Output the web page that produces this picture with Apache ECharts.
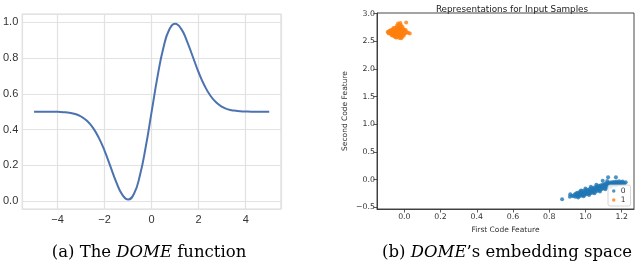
<!DOCTYPE html>
<html>
<head>
<meta charset="utf-8">
<script src="https://cdn.jsdelivr.net/npm/echarts@6/dist/echarts.min.js"></script>
<style>html,body{margin:0;padding:0;background:#fff}#c{width:640px;height:264px}</style>
</head>
<body>
<div id="c"></div>
<script>
// ---- (a) DOME function ----
const domeX = [-5,-4.75,-4.5,-4.25,-4,-3.75,-3.5,-3.25,-3,-2.75,-2.5,-2.25,-2,-1.75,-1.5,-1.25,-1,-0.75,-0.5,-0.25,0,
  0.25,0.5,0.75,1,1.25,1.5,1.75,2,2.25,2.5,2.75,3,3.25,3.5,3.75,4,4.25,4.5,4.75,5];
const domeY = [0.500,0.500,0.500,0.500,0.499,0.497,0.494,0.487,0.473,0.449,0.411,0.355,0.281,0.193,0.105,0.036,0.009,0.041,0.143,0.304,0.500,
  0.696,0.857,0.959,0.991,0.964,0.895,0.807,0.719,0.645,0.589,0.551,0.527,0.513,0.506,0.503,0.501,0.500,0.500,0.500,0.500];
const domeXTicks = [-4,-2,0,2,4];
const domeYTicks = [0,0.2,0.4,0.6,0.8,1.0];

// ---- (b) embedding space ----
const embedTitle = 'Representations for Input Samples';
const embedXName = 'First Code Feature';
const embedYName = 'Second Code Feature';
const embedXTicks = [0,0.2,0.4,0.6,0.8,1.0,1.2];
const embedYTicks = [-0.5,0,0.5,1.0,1.5,2.0,2.5,3.0];
const class0 = [
 [0.871,-0.356],[0.914,-0.307],[0.916,-0.265],[0.925,-0.29],[0.935,-0.30],[0.94,-0.27],[0.945,-0.31],[0.948,-0.25],[0.952,-0.285],[0.955,-0.235],
 [0.958,-0.30],[0.962,-0.26],[0.965,-0.28],[0.968,-0.225],[0.970,-0.295],[0.973,-0.25],[0.976,-0.27],[0.979,-0.21],[0.982,-0.285],[0.985,-0.24],
 [0.988,-0.26],[0.990,-0.20],[0.993,-0.275],[0.996,-0.23],[0.999,-0.25],[1.002,-0.19],[1.005,-0.265],[1.008,-0.22],[1.010,-0.24],[1.013,-0.18],
 [1.016,-0.255],[1.019,-0.205],[1.022,-0.23],[1.025,-0.165],[1.028,-0.245],[1.031,-0.19],[1.034,-0.215],[1.037,-0.155],[1.040,-0.235],[1.043,-0.175],
 [1.046,-0.20],[1.049,-0.14],[1.052,-0.22],[1.055,-0.16],[1.058,-0.185],[1.061,-0.125],[1.064,-0.205],[1.067,-0.145],[1.070,-0.17],[1.073,-0.11],
 [1.076,-0.19],[1.079,-0.13],[1.082,-0.155],[1.085,-0.10],[1.088,-0.175],[1.091,-0.115],[1.094,-0.14],[1.097,-0.085],[1.100,-0.16],[1.103,-0.10],
 [1.106,-0.125],[1.109,-0.07],[1.112,-0.145],[1.115,-0.09],[1.118,-0.11],[1.121,-0.06],[1.124,-0.13],[1.127,-0.08],[1.130,-0.10],[1.133,-0.05],
 [1.136,-0.115],[1.139,-0.07],[1.142,-0.09],[1.145,-0.045],[1.148,-0.10],[1.151,-0.06],[1.154,-0.08],[1.157,-0.04],[1.160,-0.09],[1.163,-0.055],
 [1.166,-0.07],[1.170,-0.035],[1.174,-0.08],[1.178,-0.05],[1.182,-0.065],[1.186,-0.03],[1.190,-0.07],[1.195,-0.045],[1.200,-0.06],[1.205,-0.035],
 [1.210,-0.055],[1.222,-0.045],[1.125,0.043],[1.168,0.043],[1.095,-0.02],[1.06,-0.09],[1.03,-0.13],[1.00,-0.16],[0.975,-0.195],[1.12,-0.025],
 [0.96,-0.32],[0.99,-0.30],[1.02,-0.275],[1.05,-0.245],[1.08,-0.215],[1.11,-0.175],[1.14,-0.13],[1.17,-0.10],[1.197,-0.085],[1.215,-0.075]
];
const class1 = [
 [-0.088,2.665],[-0.085,2.68],[-0.082,2.655],[-0.080,2.69],[-0.078,2.67],[-0.076,2.645],[-0.075,2.70],[-0.072,2.66],[-0.070,2.685],[-0.069,2.63],
 [-0.067,2.71],[-0.066,2.65],[-0.064,2.675],[-0.062,2.60],[-0.061,2.695],[-0.060,2.64],[-0.058,2.72],[-0.057,2.66],[-0.056,2.62],[-0.054,2.70],
 [-0.053,2.68],[-0.052,2.585],[-0.050,2.65],[-0.049,2.735],[-0.048,2.61],[-0.047,2.69],[-0.046,2.67],[-0.045,2.64],[-0.044,2.71],[-0.043,2.575],
 [-0.042,2.625],[-0.041,2.75],[-0.040,2.66],[-0.039,2.695],[-0.038,2.60],[-0.037,2.68],[-0.036,2.645],[-0.035,2.725],[-0.034,2.76],[-0.033,2.62],
 [-0.032,2.67],[-0.031,2.705],[-0.030,2.78],[-0.029,2.59],[-0.028,2.65],[-0.027,2.74],[-0.026,2.80],[-0.025,2.685],[-0.024,2.63],[-0.023,2.765],
 [-0.022,2.83],[-0.021,2.60],[-0.020,2.71],[-0.019,2.66],[-0.018,2.79],[-0.017,2.555],[-0.016,2.69],[-0.015,2.74],[-0.014,2.62],[-0.013,2.58],
 [-0.012,2.70],[-0.011,2.65],[-0.010,2.76],[-0.008,2.68],[-0.007,2.625],[-0.005,2.72],[-0.004,2.66],[-0.003,2.60],[-0.001,2.69],[0.000,2.64],
 [0.002,2.71],[0.004,2.675],[0.006,2.65],[0.008,2.70],[0.012,2.66],[0.022,2.655],[0.030,2.64],[0.010,2.84],[-0.035,2.82],[-0.060,2.74],
 [-0.070,2.61],[-0.055,2.595],[-0.046,2.57],[-0.028,2.56],[-0.020,2.575],[-0.086,2.64],[-0.092,2.67],[-0.063,2.715],[-0.050,2.745],[-0.040,2.785]
];
const legendNames = ['0','1'];
const captionA = ['(a) The ', 'DOME', ' function'];
const captionB = ['(b) ', 'DOME', '\u2019s embedding space'];

const fmtSigned = (v, d) => (v < 0 ? '\u2212' : '') + Math.abs(v).toFixed(d);
const isTick = (v, arr) => arr.some(t => Math.abs(t - v) < 1e-9);

const chart = echarts.init(document.getElementById('c'), null, {renderer: 'canvas'});
const serifRich = {
  n: {fontFamily: 'DejaVu Serif', fontSize: 16.5, color: '#111'},
  i: {fontFamily: 'DejaVu Serif', fontStyle: 'italic', fontSize: 16.5, color: '#111'}
};
chart.setOption({
  animation: false,
  backgroundColor: '#fff',
  title: [{
    text: embedTitle, left: 507, top: 0, textAlign: 'center',
    textStyle: {fontFamily: 'DejaVu Sans', fontSize: 8.8, fontWeight: 'normal', color: '#222'}
  }],
  legend: {
    data: legendNames, orient: 'vertical', left: 608, top: 185,
    icon: 'circle', itemWidth: 6, itemHeight: 3.5, itemGap: 1,
    padding: [2, 5, 2, 4],
    backgroundColor: 'rgba(255,255,255,0.85)', borderColor: '#cccccc', borderWidth: 0.8, borderRadius: 2,
    textStyle: {fontFamily: 'DejaVu Sans', fontSize: 7.5, color: '#333', padding: [0,0,0,-1]},
    selectedMode: false
  },
  grid: [
    {left: 21, top: 14, width: 260, height: 195, show: true, borderColor: '#dcdcdc', borderWidth: 1.2, backgroundColor: '#fff'},
    {left: 377, top: 13, width: 257, height: 196, show: true, borderColor: '#333', borderWidth: 0.9, backgroundColor: '#fff'}
  ],
  xAxis: [
    {gridIndex: 0, type: 'value', min: -5.5, max: 5.5,
     axisLine: {show: false, onZero: false}, axisTick: {show: false},
     splitLine: {show: true, lineStyle: {color: '#e2e2e2', width: 1.2}},
     axisLabel: {margin: 5, fontFamily: 'Liberation Sans', fontSize: 11, color: '#333',
       formatter: v => isTick(v, domeXTicks) ? fmtSigned(v, 0) : ''}},
    {gridIndex: 1, type: 'value', min: -0.151, max: 1.268,
     name: embedXName, nameLocation: 'middle', nameGap: 17,
     nameTextStyle: {fontFamily: 'DejaVu Sans', fontSize: 7.5, color: '#333'},
     axisLine: {show: true, onZero: false, lineStyle: {color: '#333', width: 0.9}},
     axisTick: {show: true, length: 3.5, customValues: embedXTicks, lineStyle: {color: '#333', width: 0.8}},
     splitLine: {show: false},
     axisLabel: {margin: 4, customValues: embedXTicks, fontFamily: 'DejaVu Sans', fontSize: 7.8, color: '#333',
       formatter: v => fmtSigned(v, 1)}}
  ],
  yAxis: [
    {gridIndex: 0, type: 'value', min: -0.044, max: 1.046,
     axisLine: {show: false, onZero: false}, axisTick: {show: false},
     splitLine: {show: true, lineStyle: {color: '#e2e2e2', width: 1.2}},
     axisLabel: {margin: 4, fontFamily: 'Liberation Sans', fontSize: 11, color: '#333',
       formatter: v => isTick(v, domeYTicks) ? fmtSigned(v, 1) : ''}},
    {gridIndex: 1, type: 'value', min: -0.53, max: 3.012,
     name: embedYName, nameLocation: 'middle', nameGap: 28, nameRotate: 90,
     nameTextStyle: {fontFamily: 'DejaVu Sans', fontSize: 7.5, color: '#333'},
     axisLine: {show: true, onZero: false, lineStyle: {color: '#333', width: 0.9}},
     axisTick: {show: true, length: 3.5, customValues: embedYTicks, lineStyle: {color: '#333', width: 0.8}},
     splitLine: {show: false},
     axisLabel: {margin: 2, customValues: embedYTicks, fontFamily: 'DejaVu Sans', fontSize: 7.8, color: '#333',
       formatter: v => fmtSigned(v, 1)}}
  ],
  series: [
    {type: 'line', xAxisIndex: 0, yAxisIndex: 0, data: domeX.map((x, i) => [x, domeY[i]]),
     showSymbol: false, smooth: true, lineStyle: {color: '#4c72b0', width: 2}, itemStyle: {color: '#4c72b0'}},
    {name: legendNames[0], type: 'scatter', xAxisIndex: 1, yAxisIndex: 1, data: class0,
     symbolSize: 4, itemStyle: {color: '#1f77b4'}},
    {name: legendNames[1], type: 'scatter', xAxisIndex: 1, yAxisIndex: 1, data: class1,
     symbolSize: 4, itemStyle: {color: '#ff7f0e'}}
  ],
  graphic: [
    {type: 'text', x: 149, y: 253, style: {text: '{n|' + captionA[0] + '}{i|' + captionA[1] + '}{n|' + captionA[2] + '}',
      rich: serifRich, align: 'center', verticalAlign: 'middle'}},
    {type: 'text', x: 507, y: 253, style: {text: '{n|' + captionB[0] + '}{i|' + captionB[1] + '}{n|' + captionB[2] + '}',
      rich: serifRich, align: 'center', verticalAlign: 'middle'}}
  ]
});
</script>
</body>
</html>
